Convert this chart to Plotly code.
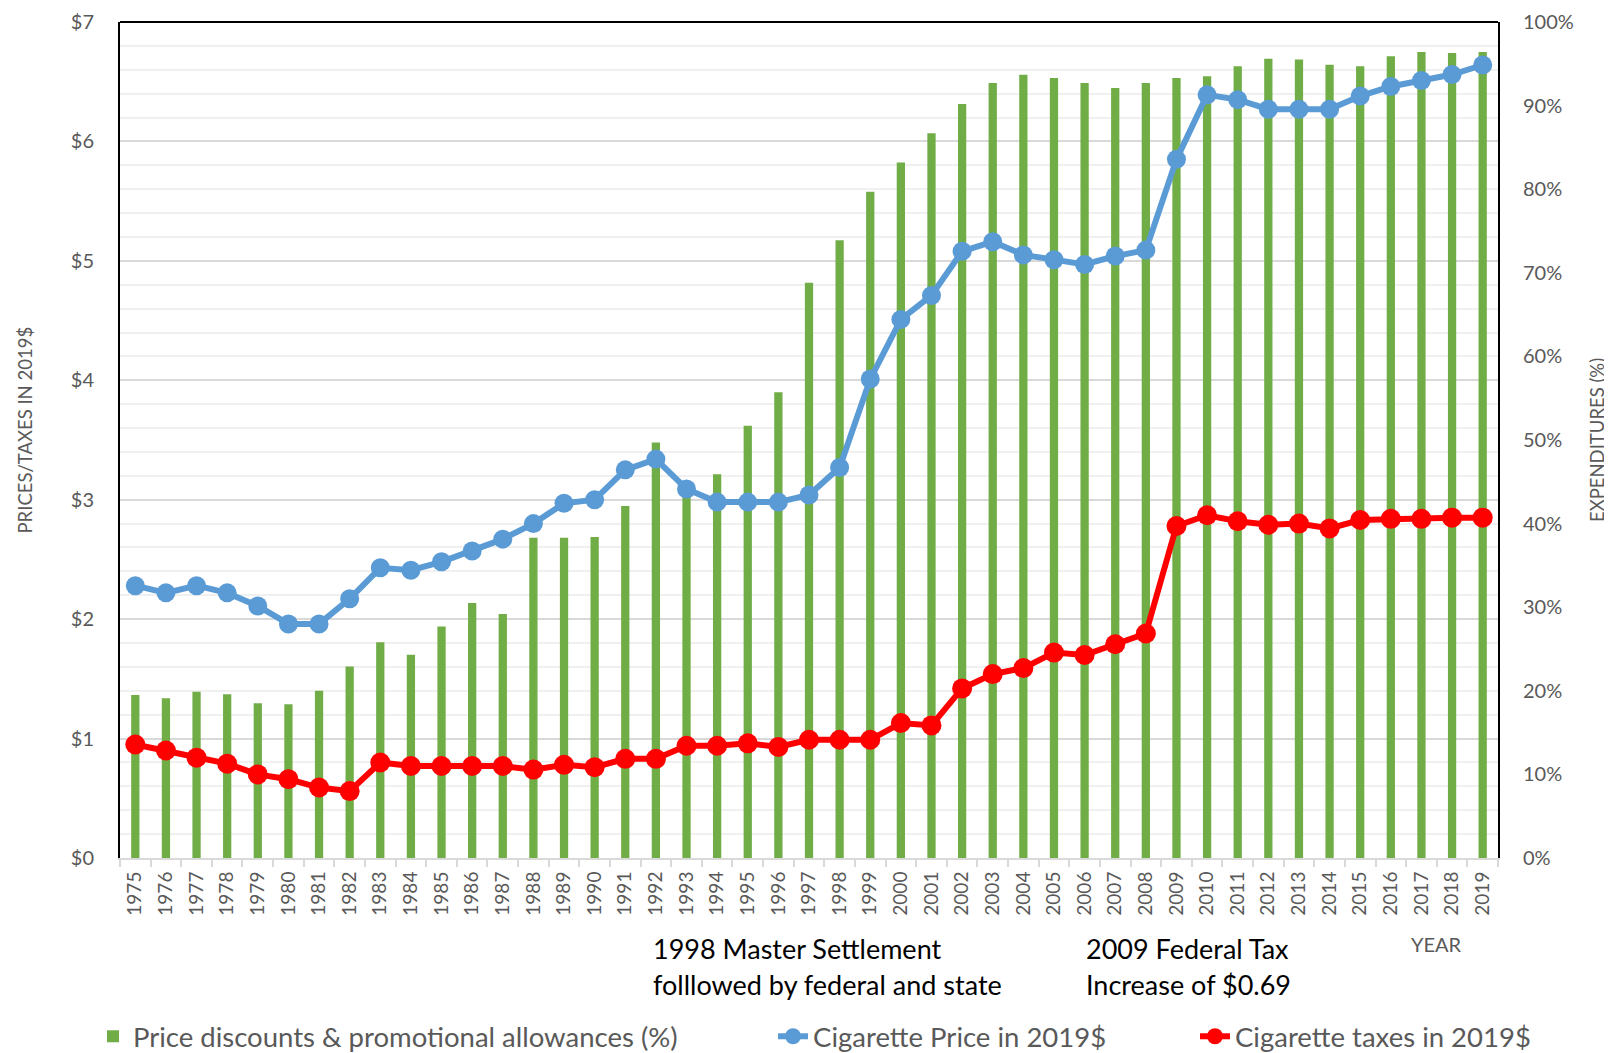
import plotly.graph_objects as go

years = [str(y) for y in range(1975, 2020)]

discounts_pct = [19.5, 19.1, 19.9, 19.6, 18.5, 18.4, 20.0, 22.9, 25.8, 24.3,
                 27.7, 30.5, 29.2, 38.3, 38.3, 38.4, 42.1, 49.7, 44.0, 45.9,
                 51.7, 55.7, 68.8, 73.9, 79.7, 83.2, 86.7, 90.2, 92.7, 93.7,
                 93.3, 92.7, 92.1, 92.7, 93.3, 93.5, 94.7, 95.6, 95.5, 94.9,
                 94.7, 95.9, 96.4, 96.3, 96.4]

price_2019 = [2.28, 2.22, 2.28, 2.22, 2.11, 1.96, 1.96, 2.17, 2.43, 2.41,
              2.48, 2.57, 2.67, 2.80, 2.97, 3.00, 3.25, 3.34, 3.09, 2.98,
              2.98, 2.98, 3.04, 3.27, 4.01, 4.51, 4.71, 5.08, 5.16, 5.05,
              5.01, 4.97, 5.04, 5.09, 5.85, 6.39, 6.35, 6.27, 6.27, 6.27,
              6.38, 6.46, 6.51, 6.56, 6.64]

taxes_2019 = [0.95, 0.90, 0.84, 0.79, 0.70, 0.66, 0.59, 0.56, 0.80, 0.77,
              0.77, 0.77, 0.77, 0.74, 0.78, 0.76, 0.83, 0.83, 0.94, 0.94,
              0.96, 0.93, 0.99, 0.99, 0.99, 1.13, 1.11, 1.42, 1.54, 1.59,
              1.72, 1.70, 1.79, 1.88, 2.78, 2.87, 2.82, 2.79, 2.80, 2.76,
              2.83, 2.84, 2.84, 2.85, 2.85]

pct_ticks = [0, 10, 20, 30, 40, 50, 60, 70, 80, 90, 100]
pct_labels = ["0%", "10%", "20%", "30%", "40%", "50%", "60%", "70%", "80%", "90%", "100%"]
usd_ticks = [0, 1, 2, 3, 4, 5, 6, 7]
usd_labels = ["$0", "$1", "$2", "$3", "$4", "$5", "$6", "$7"]

FONT = "Lato"
GRAY = "#595959"

fig = go.Figure()

fig.add_trace(go.Bar(
    x=years, y=discounts_pct, yaxis="y",
    name="Price discounts & promotional allowances (%)",
    marker=dict(color="#70ad47", line=dict(width=0)),
    legend="legend",
))
fig.add_trace(go.Scatter(
    x=years, y=price_2019, yaxis="y2", mode="lines+markers",
    name="Cigarette Price in 2019$",
    line=dict(color="#5b9bd5", width=6),
    marker=dict(color="#5b9bd5", size=19),
    legend="legend2",
))
fig.add_trace(go.Scatter(
    x=years, y=taxes_2019, yaxis="y2", mode="lines+markers",
    name="Cigarette taxes in 2019$",
    line=dict(color="#ff0000", width=6),
    marker=dict(color="#ff0000", size=20),
    legend="legend3",
))

# page body has an 8px margin, so the figure is drawn 8px smaller and shifted
LEG_Y = -0.2134
fig.update_layout(
    width=1604, height=1045,
    margin=dict(l=112, r=114, t=14, b=194.5, autoexpand=False),
    paper_bgcolor="white", plot_bgcolor="white",
    font=dict(family=FONT, color=GRAY),
    bargap=0.73,
    showlegend=True,
    xaxis=dict(
        type="category", range=[-0.5, len(years) - 0.5], tickangle=-90,
        tickfont=dict(size=19, color=GRAY),
        showgrid=False, showline=True, linecolor="#d9d9d9", linewidth=2,
        ticks="outside", tickson="boundaries", ticklen=7, tickcolor="#d9d9d9", tickwidth=1.5,
        ticklabelstandoff=4, automargin=False,
    ),
    yaxis=dict(
        side="right", range=[0, 100], tickmode="array", tickvals=pct_ticks, ticktext=pct_labels,
        tickfont=dict(size=20, color=GRAY),
        showgrid=False, zeroline=False,
        showline=True, linecolor="black", linewidth=2,
        ticklabelstandoff=19, automargin=False,
    ),
    yaxis2=dict(
        side="left", overlaying="y", range=[0, 7], tickmode="array",
        tickvals=usd_ticks, ticktext=usd_labels,
        tickfont=dict(size=20, color=GRAY),
        showgrid=True, gridcolor="#d9d9d9", gridwidth=1.5, zeroline=False,
        minor=dict(dtick=0.2, showgrid=True, gridcolor="#f0f0f0", gridwidth=1.5),
        showline=True, linecolor="black", linewidth=2,
        ticklabelstandoff=20, automargin=False,
    ),
    legend=dict(orientation="h", x=-0.0196, xanchor="left", y=LEG_Y, yanchor="middle",
                font=dict(size=27.5, color=GRAY), bgcolor="rgba(0,0,0,0)"),
    legend2=dict(orientation="h", x=0.4739, xanchor="left", y=LEG_Y, yanchor="middle",
                 font=dict(size=27.5, color=GRAY), bgcolor="rgba(0,0,0,0)"),
    legend3=dict(orientation="h", x=0.7801, xanchor="left", y=LEG_Y, yanchor="middle",
                 font=dict(size=27.5, color=GRAY), bgcolor="rgba(0,0,0,0)"),
)

fig.add_shape(type="line", xref="paper", yref="paper", x0=0, x1=1, y0=1, y1=1,
              line=dict(color="black", width=2))

ann = [
    dict(text="PRICES/TAXES IN 2019$", x=0, y=0.5, xshift=-95.5, yshift=10, textangle=-90,
         xanchor="center", yanchor="middle", font=dict(size=18.5, color=GRAY)),
    dict(text="EXPENDITURES (%)", x=1, y=0.5, xshift=99, textangle=-90,
         xanchor="center", yanchor="middle", font=dict(size=18.5, color=GRAY)),
    dict(text="1998 Master Settlement", x=0.3853, y=0, yshift=-90.5,
         xanchor="left", yanchor="middle", font=dict(size=27, color="black")),
    dict(text="folllowed by federal and state", x=0.3853, y=0, yshift=-126.5,
         xanchor="left", yanchor="middle", font=dict(size=27, color="black")),
    dict(text="2009 Federal Tax", x=0.6996, y=0, yshift=-90.5,
         xanchor="left", yanchor="middle", font=dict(size=27, color="black")),
    dict(text="Increase of $0.69", x=0.6996, y=0, yshift=-126.5,
         xanchor="left", yanchor="middle", font=dict(size=27, color="black")),
    dict(text="YEAR", x=0.9557, y=0, yshift=-86,
         xanchor="center", yanchor="middle", font=dict(size=20, color=GRAY)),
]
for a in ann:
    fig.add_annotation(xref="paper", yref="paper", showarrow=False, **a)

fig.write_html("out.html")
